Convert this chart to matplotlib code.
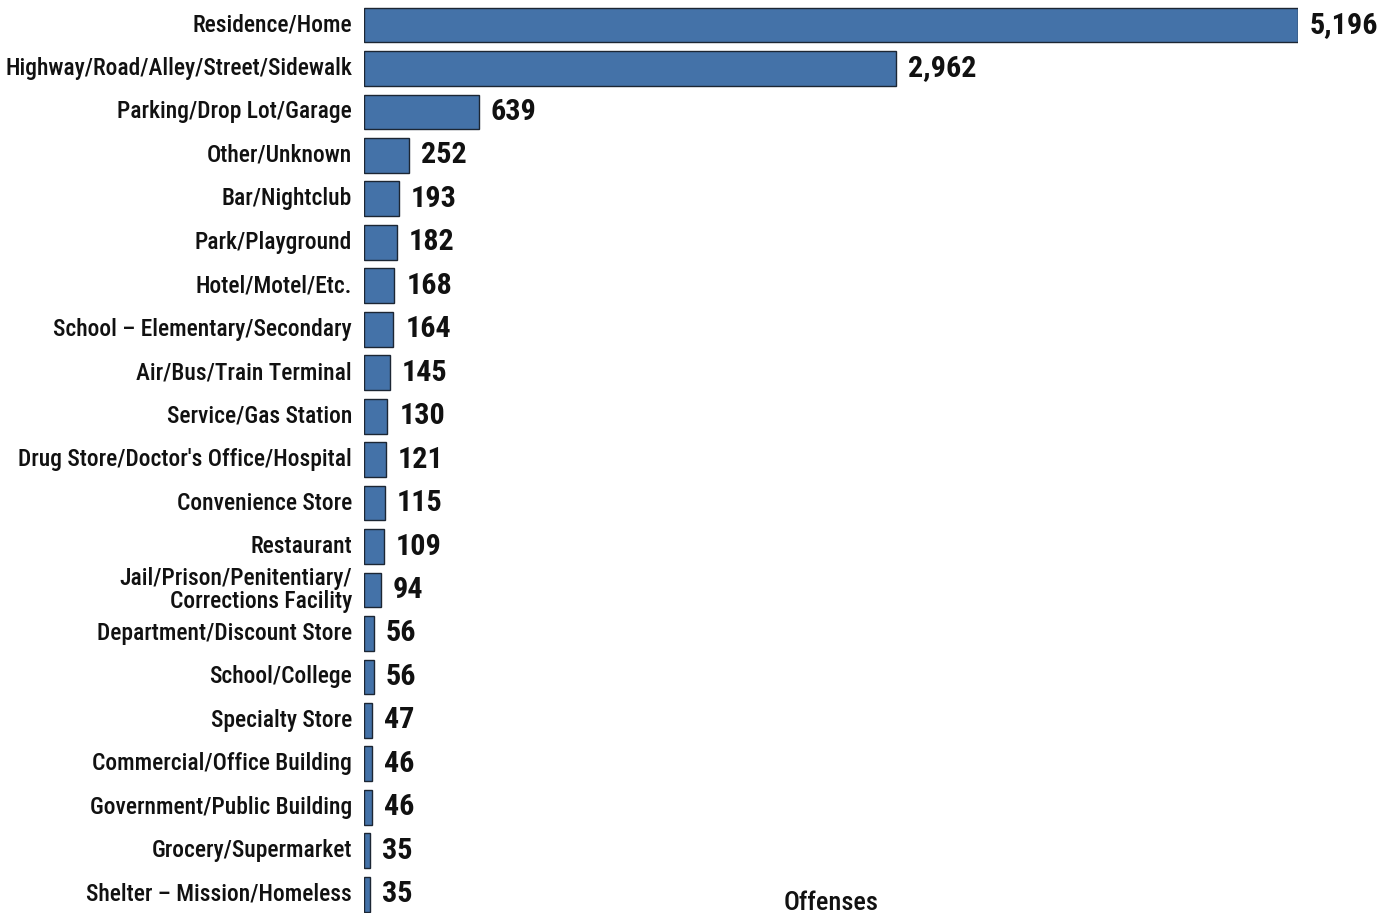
import matplotlib.pyplot as plt
from matplotlib import font_manager
import matplotlib.transforms as mtransforms

# data
categories = [
    "Residence/Home",
    "Highway/Road/Alley/Street/Sidewalk",
    "Parking/Drop Lot/Garage",
    "Other/Unknown",
    "Bar/Nightclub",
    "Park/Playground",
    "Hotel/Motel/Etc.",
    "School \u2013 Elementary/Secondary",
    "Air/Bus/Train Terminal",
    "Service/Gas Station",
    "Drug Store/Doctor's Office/Hospital",
    "Convenience Store",
    "Restaurant",
    "Jail/Prison/Penitentiary/\nCorrections Facility",
    "Department/Discount Store",
    "School/College",
    "Specialty Store",
    "Commercial/Office Building",
    "Government/Public Building",
    "Grocery/Supermarket",
    "Shelter \u2013 Mission/Homeless",
]
offenses = [5196, 2962, 639, 252, 193, 182, 168, 164, 145, 130, 121,
            115, 109, 94, 56, 56, 47, 46, 46, 35, 35]
x_label = "Offenses"

# look for a narrow font among the installed ones
entries = font_manager.fontManager.ttflist
names = {f.name for f in entries}
family = 'DejaVu Sans'
stretch = 'normal'
for cand in ['Roboto Condensed', 'Liberation Sans Narrow', 'Open Sans Condensed',
             'Noto Sans Condensed', 'DejaVu Sans Condensed', 'Arial Narrow']:
    if cand in names:
        family = cand
        break
else:
    narrow = [f for f in entries
              if str(f.stretch) in ('condensed', 'semi-condensed', 'extra-condensed', '75', '87.5', '62.5')
              or 'Condensed' in f.name or 'Narrow' in f.name]
    if narrow:
        family = narrow[0].name
        stretch = 'condensed'

plt.rcParams['font.family'] = [family, 'DejaVu Sans']

W, H = 1386, 913
fig = plt.figure(figsize=(W / 100, H / 100), dpi=100)

# axes placed in pixel terms (the chart is cropped at the bottom)
left_px, right_px = 364, 1298
top_px, bottom_px = 3.3, 915.9
ax = fig.add_axes([left_px / W, (H - bottom_px) / H,
                   (right_px - left_px) / W, (bottom_px - top_px) / H])

n = len(categories)
ypos = list(range(n))
ax.barh(ypos, offenses, height=0.8, color='#4472a8',
        edgecolor='#1c2633', linewidth=1.0)

ax.set_xlim(0, max(offenses))
ax.set_ylim(n - 0.5, -0.5)

label_off = ax.transData + mtransforms.ScaledTranslation(-12 / 100, 0, fig.dpi_scale_trans)
value_off = ax.transData + mtransforms.ScaledTranslation(12 / 100, 0, fig.dpi_scale_trans)

cat_size, val_size = 17, 21.7
cat_texts = []
val_texts = []
for y, (cat, v) in enumerate(zip(categories, offenses)):
    cat_texts.append(ax.text(0, y, cat, ha='right', va='center', fontsize=cat_size,
                             fontweight='medium', fontstretch=stretch, color='#111111',
                             linespacing=1.0, transform=label_off, clip_on=False))
    val_texts.append(ax.text(v, y, f"{v:,}", ha='left', va='center', fontsize=val_size,
                             fontweight='bold', fontstretch=stretch, color='#111111',
                             transform=value_off, clip_on=False))

# shrink if the chosen font is too wide
fig.canvas.draw()
r = fig.canvas.get_renderer()
widest = max(t.get_window_extent(r).width for t in cat_texts)
if widest > 348:
    s = 348 / widest
    for t in cat_texts:
        t.set_fontsize(cat_size * s)
vw = val_texts[0].get_window_extent(r).width
if vw > 72:
    for t in val_texts:
        t.set_fontsize(val_size * 72 / vw)

fig.text((left_px + right_px) / 2 / W, 1 - 891 / H, x_label,
         ha='center', va='top', fontsize=19, fontweight='medium',
         fontstretch=stretch, color='#111111')

ax.axis('off')
fig.savefig('out.png', dpi=100)
